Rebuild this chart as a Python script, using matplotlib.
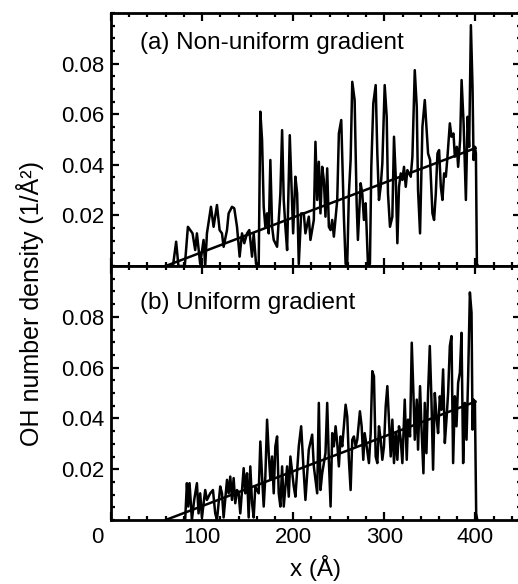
import matplotlib
matplotlib.use("Agg")
import matplotlib.pyplot as plt
from matplotlib.ticker import MultipleLocator

plt.rcParams['font.family'] = ['Liberation Sans', 'DejaVu Sans']

# panel (a): non-uniform gradient, OH number density profile (1/A^2)
xa = [60, 68, 71.5, 74, 81, 84.4, 86.9, 89.5, 92.4, 94.3, 97.9, 101.6, 103.4, 105.3,
      109.7, 112.6, 116.3, 119.2, 121.8, 123.6, 127.3, 129.1, 132.8, 135.3, 138.3,
      141.2, 143.8, 146.3, 149.3, 151.8, 154.8, 156.6, 159.2, 162.1, 163.9, 165.8,
      167.6, 169.4, 171.3, 173.1, 174.9, 176.8, 178.6, 182.3, 185.9, 187.8, 189.6,
      191.4, 193.3, 196.2, 198.0, 199.9, 202.4, 204.3, 206.1, 208.7, 211.6, 213.4,
      217.1, 218.9, 222.6, 224.4, 226.3, 228.1, 229.9, 231.8, 233.6, 235.4, 237.3,
      239.1, 241.0, 242.8, 244.6, 248.3, 250.1, 252.7, 255.6, 257.5, 259.3, 261.1,
      263.0, 264.8, 267.4, 269.6, 271.0, 274.0, 275.8, 277.6, 279.5, 282.0, 284.2,
      285.7, 287.9, 290.5, 292.3, 294.1, 296.0, 297.8, 300.4, 302.6, 304.0, 306.2,
      308.8, 310.6, 312.5, 314.3, 316.1, 318.0, 319.8, 321.6, 323.5, 325.3, 329.0,
      330.8, 333.4, 335.6, 337.0, 339.2, 341.8, 344.4, 346.6, 348.0, 350.2, 352.8,
      354.6, 356.5, 358.3, 360.1, 362.0, 363.8, 365.6, 367.5, 369.3, 371.9, 373.7,
      375.9, 377.4, 379.6, 381.0, 383.2, 384.8, 387.0, 389.5, 391.4, 393.1, 395.0,
      396.8, 397.9, 399.4, 400.5, 401.6, 403]
ya = [0, 0, 0.0096, 0, 0, 0.0155, 0.0142, 0.0129, 0.0063, 0.0129, 0.0008, 0.0103, 0,
      0.0129, 0.0234, 0.0155, 0.0241, 0.0142, 0.0129, 0.0076, 0.0142, 0.0208, 0.0234,
      0.0228, 0.0155, 0.0037, 0.0129, 0.0090, 0.0129, 0.0142, 0.0037, 0.0129, 0.0008,
      0, 0.0610, 0.0498, 0.0234, 0.0155, 0.0208, 0.0129, 0.0419, 0.0155, 0.0103,
      0.0076, 0.0287, 0.0537, 0.0261, 0.0155, 0.0063, 0.0517, 0.0327, 0.0129, 0.0353,
      0.0287, 0.0008, 0.0208, 0.0208, 0.0129, 0.0195, 0.0103, 0.0182, 0.0491, 0.0261,
      0.0412, 0.0208, 0.0392, 0.0340, 0.0195, 0.0386, 0.0155, 0.0142, 0.0182, 0.0116,
      0.0261, 0.0524, 0.0577, 0.0195, 0.0008, 0.0008, 0.0287, 0.0419, 0.0728, 0.0656,
      0.0248, 0.0103, 0.0327, 0.0287, 0.0182, 0.0248, 0.0008, 0.0008, 0.0392, 0.0643,
      0.0715, 0.0445, 0.0261, 0.0313, 0.0405, 0.0715, 0.0590, 0.0287, 0.0155, 0.0195,
      0.0511, 0.0353, 0.0090, 0.0313, 0.0366, 0.0340, 0.0392, 0.0313, 0.0379, 0.0353,
      0.0432, 0.0774, 0.0629, 0.0300, 0.0129, 0.0550, 0.0656, 0.0524, 0.0445, 0.0419,
      0.0208, 0.0182, 0.0287, 0.0445, 0.0458, 0.0313, 0.0261, 0.0366, 0.0353, 0.0432,
      0.0564, 0.0511, 0.0524, 0.0432, 0.0471, 0.0392, 0.0498, 0.0735, 0.0564, 0.0261,
      0.0590, 0.0471, 0.0952, 0.0708, 0.0419, 0.0471, 0.0445, 0.0008, 0]

# panel (b): uniform gradient
xb = [80, 81.4, 83.3, 84.7, 86.2, 88.8, 91.3, 94.3, 96.1, 97.9, 99.8, 103.4, 105.3,
      108.9, 111.9, 114.4, 116.3, 119.9, 121.8, 123.6, 127.3, 129.1, 130.9, 132.8,
      134.6, 136.4, 138.3, 140.1, 141.9, 145.6, 147.4, 149.3, 151.1, 152.9, 154.8,
      156.6, 158.4, 162.1, 163.9, 165.8, 167.6, 169.4, 171.3, 173.1, 174.9, 176.8,
      178.6, 180.4, 182.3, 184.1, 185.9, 187.8, 189.6, 193.3, 195.1, 196.9, 200.6,
      202.4, 206.1, 208.7, 211.6, 213.4, 217.1, 220.8, 222.6, 226.3, 228.1, 229.9,
      231.8, 235.4, 237.3, 239.1, 241.0, 242.8, 244.6, 246.5, 248.3, 250.1, 252.0,
      253.8, 255.6, 257.5, 259.3, 261.1, 263.0, 264.8, 266.6, 268.5, 270.3, 273.2,
      275.1, 276.9, 278.4, 280.6, 283.1, 285.0, 286.8, 288.6, 290.5, 292.3, 294.1,
      296.0, 297.8, 299.6, 301.5, 303.3, 305.1, 307.0, 308.8, 310.6, 312.5, 314.3,
      316.1, 318.0, 319.8, 322.4, 324.6, 326.0, 328.2, 330.1, 331.9, 333.4, 335.6,
      337.0, 339.2, 340.7, 342.9, 344.4, 346.2, 348.0, 349.9, 351.7, 353.5, 355.4,
      357.2, 359.0, 360.9, 362.7, 364.5, 366.4, 368.2, 370.0, 371.9, 373.7, 375.5,
      377.4, 379.2, 381.0, 382.9, 384.7, 386.5, 388.4, 390.2, 392.0, 393.9, 395.7,
      396.8, 397.9, 399.4, 400.8, 402]
yb = [0, 0, 0.0145, 0.0053, 0.0145, 0, 0.0079, 0.0145, 0.0026, 0.0105, 0.0010, 0.0118,
      0.0079, 0.0105, 0.0118, 0.0026, 0, 0.0132, 0.0105, 0.0010, 0.0158, 0.0105,
      0.0171, 0.0079, 0.0165, 0.0066, 0.0118, 0.0105, 0.0026, 0.0204, 0.0105, 0.0184,
      0.0010, 0.0211, 0.0066, 0.0010, 0.0132, 0.0105, 0.0309, 0.0171, 0.0053, 0.0171,
      0.0395, 0.0263, 0.0158, 0.0250, 0.0105, 0.0290, 0.0329, 0.0105, 0.0053, 0.0211,
      0.0053, 0.0211, 0.0092, 0.0250, 0.0132, 0.0092, 0.0290, 0.0369, 0.0184, 0.0079,
      0.0277, 0.0336, 0.0211, 0.0105, 0.0461, 0.0118, 0.0184, 0.0263, 0.0461, 0.0237,
      0.0053, 0.0342, 0.0290, 0.0369, 0.0303, 0.0211, 0.0329, 0.0290, 0.0369, 0.0454,
      0.0408, 0.0237, 0.0118, 0.0316, 0.0329, 0.0290, 0.0316, 0.0428, 0.0369, 0.0237,
      0.0342, 0.0290, 0.0224, 0.0342, 0.0586, 0.0566, 0.0250, 0.0224, 0.0369, 0.0316,
      0.0237, 0.0290, 0.0448, 0.0527, 0.0395, 0.0250, 0.0395, 0.0224, 0.0342, 0.0237,
      0.0369, 0.0316, 0.0224, 0.0474, 0.0237, 0.0395, 0.0329, 0.0698, 0.0500, 0.0316,
      0.0474, 0.0277, 0.0527, 0.0369, 0.0184, 0.0461, 0.0263, 0.0500, 0.0685, 0.0474,
      0.0198, 0.0500, 0.0408, 0.0342, 0.0487, 0.0434, 0.0593, 0.0303, 0.0395, 0.0500,
      0.0685, 0.0724, 0.0224, 0.0487, 0.0369, 0.0540, 0.0580, 0.0737, 0.0224, 0.0461,
      0.0316, 0.0566, 0.0896, 0.0816, 0.0356, 0.0474, 0.0467, 0.0026, 0]

# linear fits
fit_x = [60, 400]
fit_a = [0, 0.0466]
fit_b = [0, 0.0466]

labels = ['(a) Non-uniform gradient', '(b) Uniform gradient']
xticks = [0, 100, 200, 300, 400]

fig = plt.figure(figsize=(5.18, 5.84), dpi=100)
w = 410 / 518.
ax1 = fig.add_axes([111 / 518., 318 / 584., w, 253 / 584.])
ax2 = fig.add_axes([111 / 518., 64 / 584., w, 254 / 584.], sharex=ax1)

for ax, x, y, fy, lab, ty in [(ax1, xa, ya, fit_a, labels[0], 0.88),
                              (ax2, xb, yb, fit_b, labels[1], 0.855)]:
    ax.plot(x, y, color='black', lw=1.8)
    ax.plot(fit_x, fy, color='black', lw=1.8)
    ax.set_xlim(0, 450)
    ax.set_ylim(0, 0.1)
    ax.set_yticks([0.02, 0.04, 0.06, 0.08])
    ax.yaxis.set_minor_locator(MultipleLocator(0.005))
    ax.xaxis.set_minor_locator(MultipleLocator(20))
    ax.tick_params(which='both', direction='in', top=True, right=True, width=1.6,
                   labelsize=16, pad=5)
    ax.tick_params(which='major', length=6)
    ax.tick_params(which='minor', length=3.2)
    for s in ax.spines.values():
        s.set_linewidth(2.0)
    ax.text(0.071, ty, lab, transform=ax.transAxes, fontsize=17.5, va='center', ha='left')

# "0" is drawn separately, a little left of its tick as in the original
ax2.set_xticks(xticks, [''] + [str(v) for v in xticks[1:]])
ax1.tick_params(labelbottom=False)
ax2.annotate(str(xticks[0]), xy=(xticks[0], 0), xycoords=('data', 'axes fraction'),
             xytext=(-14, -7), textcoords='offset pixels', ha='center', va='top',
             fontsize=16)
ax2.set_xlabel('x (Å)', fontsize=17.5, labelpad=5)
fig.text(0.058, 0.48, 'OH number density (1/Å²)', rotation=90, fontsize=18,
         ha='center', va='center')

fig.savefig('out.png', dpi=100)
